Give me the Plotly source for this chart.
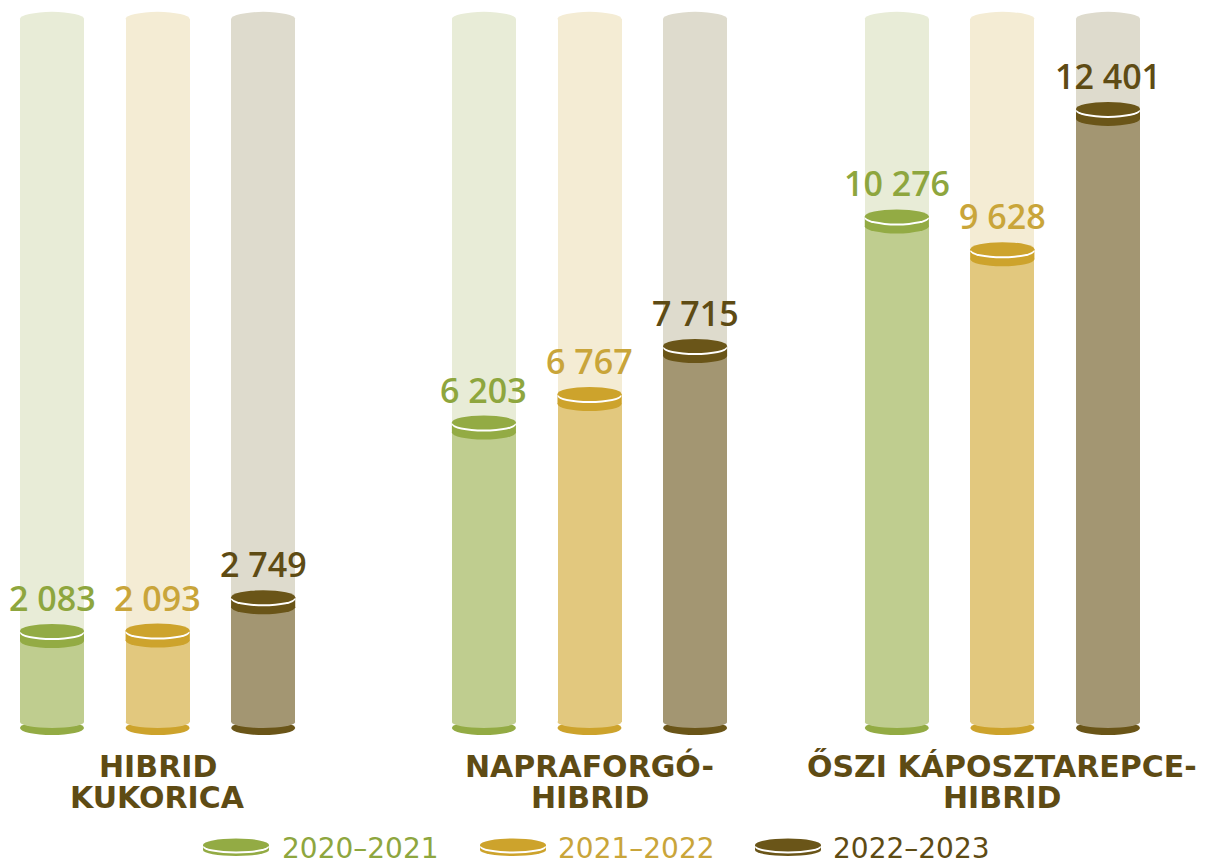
import plotly.graph_objects as go

# ---------------- data ----------------
categories = ["HIBRID<br>KUKORICA", "NAPRAFORGÓ-<br>HIBRID", "ŐSZI KÁPOSZTAREPCE-<br>HIBRID"]
seasons = ["2020–2021", "2021–2022", "2022–2023"]
values_2020_2021 = [2083, 6203, 10276]
values_2021_2022 = [2093, 6767, 9628]
values_2022_2023 = [2749, 7715, 12401]
scale_max = 14180  # height of the pale background columns

series_values = [values_2020_2021, values_2021_2022, values_2022_2023]

# ---------------- styles ----------------
dark_colors = ["#93ab44", "#cda32c", "#6a5518"]
body_colors = ["#bfcd8f", "#e2c87e", "#a39672"]
bg_colors = ["#e8ecd7", "#f4ecd4", "#dedbcd"]
label_colors = ["#8ea63e", "#c9a53a", "#5e4b14"]
cat_color = "#5e4b14"

W, H = 1214, 866

PX_PER_X = 105.6
X_MIN = -52 / PX_PER_X        # x value at pixel 0
Y_MAX, Y_MIN = 14553, -2561   # y values at pixel 0 and 866
K = H / (Y_MAX - Y_MIN)       # px per value unit


def dy(px):
    return px / K


def py_to_y(py):  # pixel -> data y
    return Y_MAX - py / K


def px_to_x(px):  # pixel -> data x
    return X_MIN + px / PX_PER_X


group_offsets = [0.0, 4.09, 8.0]
bar_w = 64 / PX_PER_X
base_val = py_to_y(722)


def xpos(g, s):
    return group_offsets[g] + s * 1.0


fig = go.Figure()

# pale background columns
for s in range(3):
    xs = [xpos(g, s) for g in range(3)]
    fig.add_trace(go.Bar(
        x=xs, y=[scale_max - base_val] * 3, base=base_val, width=bar_w,
        marker=dict(color=bg_colors[s], line=dict(width=0)),
        hoverinfo="skip", showlegend=False,
    ))

# value bodies
for s in range(3):
    xs = [xpos(g, s) for g in range(3)]
    fig.add_trace(go.Bar(
        x=xs, y=[v - base_val for v in series_values[s]], base=base_val, width=bar_w,
        marker=dict(color=body_colors[s], line=dict(width=0)),
        name=seasons[s], hoverinfo="skip", showlegend=False,
    ))

shapes = []
annotations = []


def ellipse(xc, yc, half_w, half_h_px, color, layer):
    return dict(type="circle", xref="x", yref="y",
                x0=xc - half_w, x1=xc + half_w,
                y0=yc - dy(half_h_px), y1=yc + dy(half_h_px),
                fillcolor=color, line=dict(width=0), layer=layer)


hw = bar_w / 2
for s in range(3):
    for g in range(3):
        xc = xpos(g, s)
        v = series_values[s][g]
        # rounded top of the pale column
        shapes.append(ellipse(xc, scale_max, hw, 7, bg_colors[s], "below"))
        # bottom rim
        shapes.append(ellipse(xc, py_to_y(728), hw, 7, dark_colors[s], "below"))
        shapes.append(ellipse(xc, base_val, hw, 6, body_colors[s], "below"))
        # top coin cap
        shapes.append(dict(type="rect", xref="x", yref="y",
                           x0=xc - hw, x1=xc + hw, y0=v - dy(10), y1=v,
                           fillcolor=dark_colors[s], line=dict(width=0), layer="above"))
        shapes.append(ellipse(xc, v - dy(10), hw, 7, dark_colors[s], "above"))
        shapes.append(ellipse(xc, v - dy(2), hw, 7, "#ffffff", "above"))
        shapes.append(ellipse(xc, v, hw, 7, dark_colors[s], "above"))
        # value label
        annotations.append(dict(
            x=xc, y=v, xref="x", yref="y", text=f"{v:,}".replace(",", " "),
            showarrow=False, yanchor="bottom", xanchor="center", yshift=8,
            font=dict(family="Open Sans", size=34, weight=600, color=label_colors[s]),
        ))

# category labels (one annotation per line)
line_centers_px = [766, 797]
for g, cat in enumerate(categories):
    for i, line in enumerate(cat.split("<br>")):
        annotations.append(dict(
            x=xpos(g, 1), y=py_to_y(line_centers_px[i]), xref="x", yref="y",
            text=line, showarrow=False, xanchor="center", yanchor="middle",
            font=dict(family="DejaVu Sans", size=30, weight="bold", color=cat_color),
        ))

# legend
legend_icon_px = [236, 513, 788]
legend_text_px = [280, 556, 831]
for s in range(3):
    xc = px_to_x(legend_icon_px[s])
    ihw = 33 / PX_PER_X
    yc = py_to_y(845)
    shapes.append(ellipse(xc, py_to_y(850), ihw, 6, dark_colors[s], "above"))
    shapes.append(dict(type="rect", xref="x", yref="y",
                       x0=xc - ihw, x1=xc + ihw, y0=py_to_y(850), y1=yc,
                       fillcolor=dark_colors[s], line=dict(width=0), layer="above"))
    shapes.append(ellipse(xc, py_to_y(847), ihw, 6.5, "#ffffff", "above"))
    shapes.append(ellipse(xc, yc, ihw, 6.5, dark_colors[s], "above"))
    annotations.append(dict(
        x=px_to_x(legend_text_px[s]), y=py_to_y(848), xref="x", yref="y",
        text=seasons[s], showarrow=False, xanchor="left", yanchor="middle",
        font=dict(family="DejaVu Sans", size=28, color=label_colors[s]),
    ))

fig.update_layout(
    width=W, height=H, autosize=False,
    margin=dict(l=0, r=0, t=0, b=0),
    paper_bgcolor="white", plot_bgcolor="white",
    barmode="overlay", bargap=0,
    xaxis=dict(range=[px_to_x(0), px_to_x(W)], visible=False, fixedrange=True),
    yaxis=dict(range=[py_to_y(H), py_to_y(0)], visible=False, fixedrange=True),
    shapes=shapes, annotations=annotations,
    showlegend=False,
)

fig.write_html(
    "out.html",
    config={"displayModeBar": False},
    post_script="document.body.style.margin='0px'; document.body.style.overflow='hidden';",
)
